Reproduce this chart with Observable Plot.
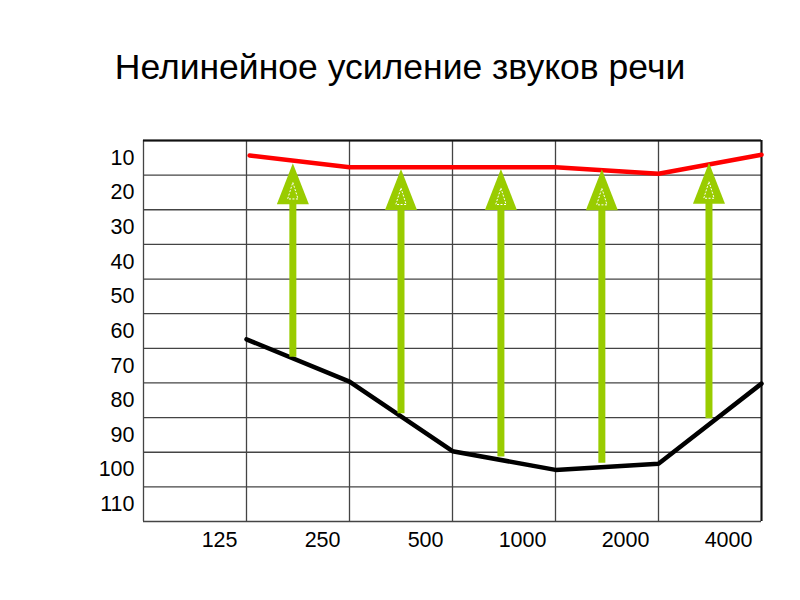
<!DOCTYPE html>
<html>
<head>
<meta charset="utf-8">
<script src="https://cdn.jsdelivr.net/npm/d3@7"></script>
<script src="https://cdn.jsdelivr.net/npm/@observablehq/plot@0.6"></script>
<style>
  html, body { margin: 0; padding: 0; background: #fff; }
  body { width: 800px; height: 600px; position: relative; overflow: hidden; font-family: "Liberation Sans", Arial, sans-serif; }
  #title { position: absolute; left: 0; top: 50px; width: 800px; text-align: center; font-size: 35.5px; line-height: 35.5px; color: #000; }
  #chart { position: absolute; left: 0; top: 110px; }
</style>
</head>
<body>
<div id="title">Нелинейное усиление звуков речи</div>
<div id="chart"></div>
<script>
// Frequencies (Hz) shown on x, by column index
const freqLabels = ["125", "250", "500", "1000", "2000", "4000"];
const freqIdx = [1, 2, 3, 4, 5, 6];
// dB tick labels
const dbTicks = [10, 20, 30, 40, 50, 60, 70, 80, 90, 100, 110];
// Black curve (hearing threshold), dB
const blackX = [1, 2, 3, 4, 5, 6];
const blackDb = [62.4, 74.6, 94.7, 100.1, 98.3, 75.2];
// Red curve (target), dB
const redX = [1.03, 2, 3, 4, 5, 6];
const redDb = [9.3, 12.7, 12.7, 12.7, 14.6, 9.1];
// Green amplification arrows
const arrowX = [1.45, 2.5, 3.47, 4.45, 5.49];
const arrowFrom = [67.6, 83.9, 96.4, 98.2, 85.3];
const arrowTo = [11.6, 13.2, 13.2, 13.3, 11.4];

const gridX = d3.range(0, 7);
const gridY = d3.range(5, 116, 10);

const black = blackX.map((x, i) => ({x, y: blackDb[i]}));
const red = redX.map((x, i) => ({x, y: redDb[i]}));
const arrows = arrowX.map((x, i) => ({x, y1: arrowFrom[i], y2: arrowTo[i]}));

const green = "#99cc00";
const headSymbol = {
  draw(ctx) {
    ctx.moveTo(0, 0);
    ctx.lineTo(16, 41);
    ctx.lineTo(-16, 41);
    ctx.closePath();
  }
};
const innerSymbol = {
  draw(ctx) {
    ctx.moveTo(0, 19);
    ctx.lineTo(5.2, 35.6);
    ctx.lineTo(-5.2, 35.6);
    ctx.closePath();
  }
};

const chart = Plot.plot({
  width: 800,
  height: 490,
  marginTop: 30,
  marginBottom: 79,
  marginLeft: 143,
  marginRight: 39,
  style: {fontFamily: "Liberation Sans, Arial, sans-serif", fontSize: "21.5px", color: "#000", background: "#fff"},
  x: {domain: [0, 6]},
  y: {domain: [5, 115], reverse: true},
  marks: [
    Plot.ruleY(gridY, {stroke: "#444", strokeWidth: 1.3}),
    Plot.ruleX(gridX, {stroke: "#444", strokeWidth: 1.3}),
    Plot.ruleY([5], {stroke: "#111", strokeWidth: 2}),
    Plot.ruleX([6], {stroke: "#111", strokeWidth: 2}),
    Plot.axisY({ticks: dbTicks, tickSize: 0, tickPadding: 9, label: null, fill: "#000", fontSize: 21.5}),
    Plot.axisX({ticks: freqIdx, tickFormat: d => freqLabels[d - 1], tickSize: 0, tickPadding: 10, textAnchor: "end", dx: -9, label: null, fill: "#000", fontSize: 21.5}),
    Plot.line(red, {x: "x", y: "y", stroke: "#ff0000", strokeWidth: 4.5, strokeLinejoin: "miter"}),
    Plot.line(black, {x: "x", y: "y", stroke: "#000", strokeWidth: 4.5, strokeLinejoin: "miter"}),
    Plot.ruleX(arrows, {x: "x", y1: "y1", y2: d => d.y2 + 5, stroke: green, strokeWidth: 7}),
    Plot.dot(arrows, {x: "x", y: "y2", symbol: headSymbol, fill: green, stroke: null}),
    Plot.dot(arrows, {x: "x", y: "y2", symbol: innerSymbol, fill: "none", stroke: "#fff", strokeWidth: 1, strokeDasharray: "2,1.5"})
  ]
});
document.getElementById("chart").appendChild(chart);
</script>
</body>
</html>
